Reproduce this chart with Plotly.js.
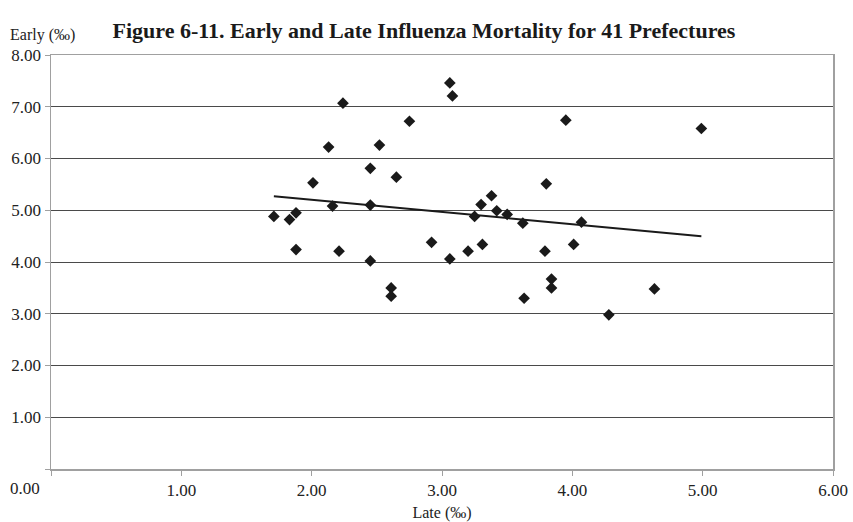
<!DOCTYPE html>
<html>
<head>
<meta charset="utf-8">
<script src="https://cdn.plot.ly/plotly-3.0.1.min.js"></script>
<style>html,body{margin:0;padding:0;background:#fff;}#chart{width:853px;height:522px;}</style>
</head>
<body>
<div id="chart"></div>
<script>
// Late (‰) mortality per prefecture (x)
var late = [1.71, 1.83, 1.88, 1.88, 2.01, 2.13, 2.16, 2.21, 2.24, 2.45,
            2.45, 2.45, 2.52, 2.61, 2.61, 2.65, 2.75, 2.92, 3.06, 3.08,
            3.06, 3.20, 3.25, 3.30, 3.31, 3.38, 3.42, 3.50, 3.62, 3.63,
            3.79, 3.80, 3.84, 3.84, 3.95, 4.01, 4.07, 4.28, 4.63, 4.99];
// Early (‰) mortality per prefecture (y)
var early = [4.88, 4.82, 4.95, 4.24, 5.53, 6.22, 5.08, 4.21, 7.07, 5.81,
             5.10, 4.02, 6.26, 3.50, 3.34, 5.64, 6.72, 4.38, 7.46, 7.21,
             4.06, 4.21, 4.88, 5.11, 4.34, 5.28, 4.99, 4.92, 4.75, 3.30,
             4.21, 5.51, 3.67, 3.50, 6.74, 4.34, 4.77, 2.98, 3.48, 6.58];
var xTickVals = [0, 1, 2, 3, 4, 5, 6];
var xTickText = ["", "1.00", "2.00", "3.00", "4.00", "5.00", "6.00"];
var yTickVals = [0, 1, 2, 3, 4, 5, 6, 7, 8];
var yTickText = ["", "1.00", "2.00", "3.00", "4.00", "5.00", "6.00", "7.00", "8.00"];

// linear trend (least squares) from the data
var n = late.length, sx = 0, sy = 0, sxx = 0, sxy = 0;
for (var i = 0; i < n; i++) { sx += late[i]; sy += early[i]; sxx += late[i]*late[i]; sxy += late[i]*early[i]; }
var slope = (n*sxy - sx*sy) / (n*sxx - sx*sx);
var intercept = (sy - slope*sx) / n;
var xmin = Math.min.apply(null, late), xmax = Math.max.apply(null, late);
var trendX = [xmin, xmax];
var trendY = trendX.map(function(v){ return intercept + slope*v; });

var font = "Liberation Serif, Times New Roman, serif";
var data = [
  {x: trendX, y: trendY, type: 'scatter', mode: 'lines', line: {color: '#1a1a1a', width: 2}, hoverinfo: 'skip', showlegend: false},
  {x: late, y: early, type: 'scatter', mode: 'markers',
   marker: {symbol: 'diamond', size: 9, color: '#1a1a1a'}, showlegend: false}
];
var layout = {
  width: 853, height: 522,
  margin: {l: 51, r: 20, t: 55, b: 53},
  paper_bgcolor: '#fff', plot_bgcolor: '#fff',
  font: {family: font, color: '#222', size: 17},
  title: {text: '<b>Figure 6-11. Early and Late Influenza Mortality for 41 Prefectures</b>',
          font: {family: font, size: 22, color: '#1a1a1a'},
          xref: 'container', yref: 'container', x: 0.497, y: 1 - 30/522, xanchor: 'center', yanchor: 'middle'},
  xaxis: {range: [0, 6], tickvals: xTickVals, ticktext: xTickText, showgrid: false, zeroline: false,
          showline: true, linecolor: '#a0a0a0', linewidth: 1.5, mirror: true,
          ticks: 'outside', ticklen: 5, tickcolor: '#a0a0a0', tickwidth: 1,
          tickfont: {family: font, size: 17, color: '#222'},
          title: {text: 'Late (‰)', font: {family: font, size: 16, color: '#222'}, standoff: 10}},
  yaxis: {range: [0, 8], tickvals: yTickVals, ticktext: yTickText, showgrid: true, gridcolor: '#4a4a4a', gridwidth: 1,
          zeroline: false, showline: true, linecolor: '#a0a0a0', linewidth: 1.5, mirror: true,
          ticks: 'outside', ticklen: 5, tickcolor: '#a0a0a0', tickwidth: 1,
          tickfont: {family: font, size: 17, color: '#222'}},
  annotations: [
    {text: 'Early (‰)', xref: 'paper', yref: 'paper', x: (8-51)/782, y: (469-35)/414,
     xanchor: 'left', yanchor: 'middle', showarrow: false, font: {family: font, size: 16, color: '#222'}},
    {text: '0.00', xref: 'paper', yref: 'paper', x: (25-51)/782, y: (469-488)/414,
     xanchor: 'center', yanchor: 'middle', showarrow: false, font: {family: font, size: 17, color: '#222'}}
  ]
};
Plotly.newPlot('chart', data, layout, {displayModeBar: false, staticPlot: true});
</script>
</body>
</html>
